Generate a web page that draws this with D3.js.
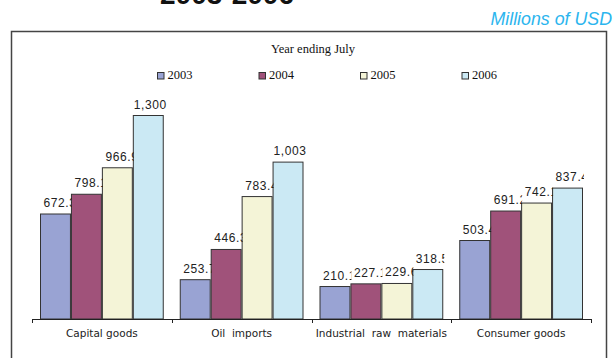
<!DOCTYPE html>
<html>
<head>
<meta charset="utf-8">
<script src="https://cdn.jsdelivr.net/npm/d3@7"></script>
<style>
  body { margin: 0; background: #fff; }
  svg { display: block; }
</style>
</head>
<body>
<div id="chartDiv"></div>
<script>
var categories = ["Capital goods", "Oil  imports", "Industrial  raw  materials", "Consumer goods"];
var years = ["2003", "2004", "2005", "2006"];
var values2003 = [672.3, 253.7, 210.1, 503.4];
var values2004 = [798.1, 446.3, 227.1, 691.2];
var values2005 = [966.9, 783.4, 229.6, 742.1];
var values2006 = [1300, 1003, 318.5, 837.4];
var labels2003 = ["672.3", "253.7", "210.1", "503.4"];
var labels2004 = ["798.1", "446.3", "227.1", "691.2"];
var labels2005 = ["966.9", "783.4", "229.6", "742.1"];
var labels2006 = ["1,300", "1,003", "318.5", "837.4"];

var seriesValues = [values2003, values2004, values2005, values2006];
var seriesLabels = [labels2003, labels2004, labels2005, labels2006];

var outerWidth = 616, outerHeight = 358;
var svg = d3.select("#chartDiv")
    .append("svg")
    .attr("width", outerWidth)
    .attr("height", outerHeight);

var fillColour = d3.scaleOrdinal()
    .domain(years)
    .range(["#99a3d3", "#a0527a", "#f4f4d7", "#cbe9f4"]);

// title, cut off at the top of the picture
svg.append("text")
    .attr("x", 227).attr("y", 4)
    .attr("text-anchor", "middle")
    .style("font-family", "Liberation Sans, Arial, sans-serif")
    .style("font-weight", "bold")
    .style("font-size", "28px")
    .attr("fill", "#111")
    .text("2003-2006");

svg.append("text")
    .attr("x", 612).attr("y", 25)
    .attr("text-anchor", "end")
    .style("font-family", "Liberation Sans, Arial, sans-serif")
    .style("font-style", "italic")
    .style("font-size", "17.8px")
    .attr("fill", "#2bb5ee")
    .text("Millions of USD");

// frame
svg.append("path")
    .attr("d", "M11.5,370 V31.5 H606.5 V370")
    .attr("fill", "none")
    .attr("stroke", "#444")
    .attr("stroke-width", 1.5);

svg.append("text")
    .attr("x", 313).attr("y", 53)
    .attr("text-anchor", "middle")
    .style("font-family", "Liberation Serif, Times New Roman, serif")
    .style("font-size", "12.5px")
    .attr("fill", "#111")
    .text("Year ending July");

// legend
var legend = svg.selectAll(".legend")
    .data(years)
    .enter()
    .append("g")
    .attr("transform", (d, i) => "translate(" + (157 + i * 101.5) + ",72)");

legend.append("rect")
    .attr("x", 0.5).attr("y", 0.5)
    .attr("width", 6.5).attr("height", 6.5)
    .attr("fill", d => fillColour(d))
    .attr("stroke", "#333")
    .attr("stroke-width", 1);

legend.append("text")
    .attr("x", 10.5).attr("y", 7)
    .style("font-family", "Liberation Serif, Times New Roman, serif")
    .style("font-size", "12.5px")
    .attr("fill", "#111")
    .text(d => d);

// scales
var x0 = d3.scaleBand()
    .domain(categories)
    .range([32, 591])
    .paddingInner(0)
    .paddingOuter(0);

var x1 = d3.scaleBand()
    .domain(years)
    .range([8, x0.bandwidth() - 8]);

var y = d3.scaleLinear()
    .domain([0, 1300])
    .range([319, 115]);

var defs = svg.append("defs");

var groups = svg.selectAll(".group")
    .data(categories)
    .enter()
    .append("g")
    .attr("class", "group")
    .attr("transform", d => "translate(" + x0(d) + ",0)");

groups.each(function (cat, ci) {
    var g = d3.select(this);
    years.forEach(function (yr, si) {
        var v = seriesValues[si][ci];
        var bx = x1(yr), bw = x1.bandwidth();
        g.append("rect")
            .attr("x", bx + 0.5)
            .attr("y", y(v) + 0.5)
            .attr("width", bw - 1)
            .attr("height", y(0) - y(v) - 0.5)
            .attr("fill", fillColour(yr))
            .attr("stroke", "#333")
            .attr("stroke-width", 1);
    });
});

// value labels: decimal ones are truncated at the bar's right edge like in the original
groups.each(function (cat, ci) {
    years.forEach(function (yr, si) {
        var v = seriesValues[si][ci];
        var lbl = seriesLabels[si][ci];
        var left = x0(cat) + x1(yr), bw = x1.bandwidth();
        var truncated = lbl.indexOf(".") >= 0;
        var t = svg.append("text")
            .attr("y", y(v) - 6.5)
            .style("font-family", "Liberation Sans, Arial, sans-serif")
            .style("font-size", "12px")
            .style("letter-spacing", "0.6px")
            .attr("fill", "#222")
            .text(lbl);
        if (truncated) {
            var clipId = "clip" + ci + "_" + si;
            defs.append("clipPath")
                .attr("id", clipId)
                .append("rect")
                .attr("x", left)
                .attr("y", y(v) - 22)
                .attr("width", bw + 1)
                .attr("height", 22);
            t.attr("x", left + 3.5)
                .attr("clip-path", "url(#" + clipId + ")");
        } else {
            t.attr("x", left + bw / 2 + 2)
                .attr("text-anchor", "middle");
        }
    });
});

// x axis
var xAxis = d3.axisBottom(x0)
    .tickSize(0)
    .tickSizeOuter(0);

var axisG = svg.append("g")
    .attr("transform", "translate(0,319)")
    .call(xAxis);

axisG.select(".domain")
    .attr("stroke", "#222")
    .attr("stroke-width", 1);

axisG.selectAll(".tick text")
    .attr("y", 11)
    .style("font-family", "DejaVu Sans, sans-serif")
    .style("font-size", "10.5px")
    .style("white-space", "pre")
    .attr("fill", "#222");

// separator ticks between the categories
var sepTicks = categories.map(c => x0(c)).concat([x0.range()[1]]);
axisG.selectAll(".sep")
    .data(sepTicks)
    .enter()
    .append("line")
    .attr("x1", d => Math.round(d) + 0.5)
    .attr("x2", d => Math.round(d) + 0.5)
    .attr("y1", 0)
    .attr("y2", 4)
    .attr("stroke", "#222");
</script>
</body>
</html>
